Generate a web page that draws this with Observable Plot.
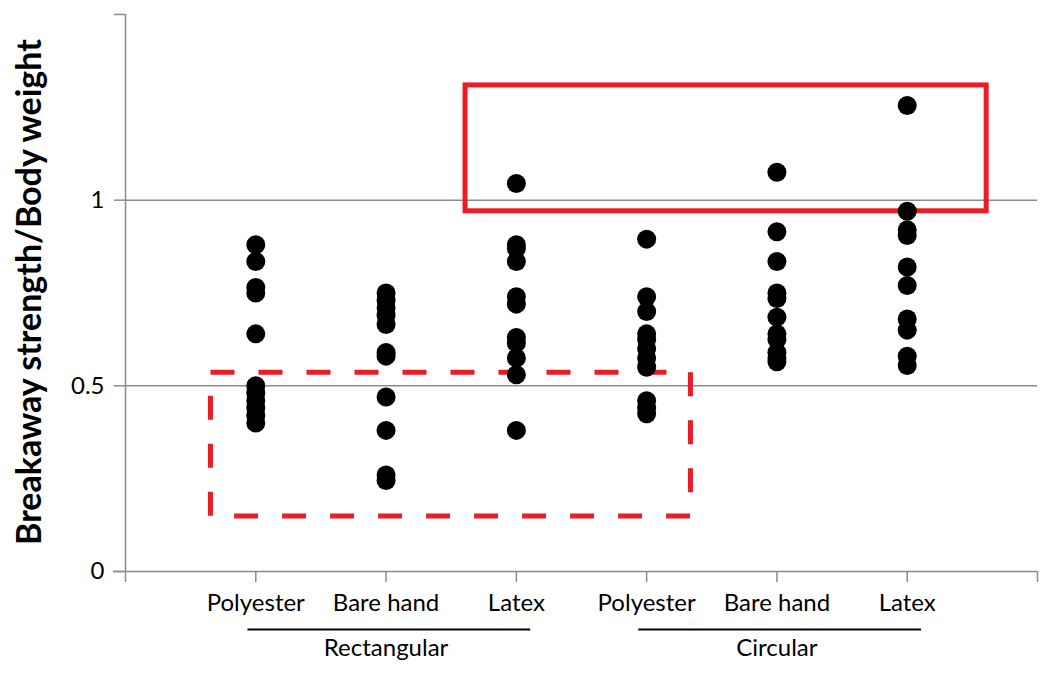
<!DOCTYPE html>
<html>
<head>
<meta charset="utf-8">
<script src="https://cdn.jsdelivr.net/npm/d3@7"></script>
<script src="https://cdn.jsdelivr.net/npm/@observablehq/plot@0.6"></script>
<style>
  body { margin: 0; background: #fff; }
  #chart svg { font-family: Lato, "Open Sans", sans-serif; }
</style>
</head>
<body>
<div id="chart"></div>
<script>
// Category labels (positions 1..6 on the x axis)
const categories = ["Polyester", "Bare hand", "Latex", "Polyester", "Bare hand", "Latex"];
const groups = ["Rectangular", "Circular"];
const groupCenter = [2, 5];
const groupStart = [0.94, 3.94];
const groupEnd = [3.11, 6.11];

// Breakaway strength / body weight per condition
const rectPolyester = [0.88, 0.835, 0.765, 0.75, 0.64, 0.50, 0.48, 0.46, 0.44, 0.42, 0.40];
const rectBareHand  = [0.75, 0.73, 0.71, 0.69, 0.665, 0.59, 0.58, 0.47, 0.38, 0.26, 0.245];
const rectLatex     = [1.045, 0.88, 0.87, 0.835, 0.74, 0.72, 0.63, 0.615, 0.575, 0.53, 0.38];
const circPolyester = [0.895, 0.74, 0.70, 0.64, 0.625, 0.60, 0.575, 0.55, 0.46, 0.44, 0.425];
const circBareHand  = [1.075, 0.915, 0.835, 0.75, 0.735, 0.685, 0.64, 0.625, 0.59, 0.575, 0.565];
const circLatex     = [1.255, 0.97, 0.92, 0.905, 0.82, 0.77, 0.68, 0.65, 0.58, 0.555];

const yTicks = [0, 0.5, 1, 1.5];
const xTicks = [0, 1, 2, 3, 4, 5, 6, 7];

// Highlight boxes (data units): solid = high values, dashed = low values
const solidBox = [{x1: 2.61, x2: 6.61, y1: 0.97, y2: 1.309}];
const dashedBox = [{x1: 0.656, x2: 4.34, y1: 0.148, y2: 0.535}];

const series = [rectPolyester, rectBareHand, rectLatex, circPolyester, circBareHand, circLatex];
const points = series.flatMap((vals, i) => vals.map(v => ({x: i + 1, y: v})));

const gray = "#8c8c8c";
const red = "#ec1c24";

const chart = Plot.plot({
  width: 1050,
  height: 674,
  marginLeft: 125,
  marginRight: 13,
  marginTop: 14,
  marginBottom: 103,
  x: {domain: [0, 7]},
  y: {domain: [0, 1.5]},
  marks: [
    Plot.ruleY([0.5, 1], {stroke: gray, strokeWidth: 1.5}),
    Plot.ruleX([0], {stroke: gray, strokeWidth: 1.5}),
    Plot.ruleY([0], {stroke: gray, strokeWidth: 1.5, insetLeft: -12}),
    Plot.axisY({
      ticks: yTicks, tickSize: 11, tickPadding: 10, stroke: gray, strokeWidth: 1.5,
      fill: "#000", fontSize: 24, label: null,
      tickFormat: d => d === 1.5 ? "" : String(d)
    }),
    Plot.axisX({
      ticks: xTicks, tickSize: 11, tickPadding: 11, stroke: gray, strokeWidth: 1.5,
      fill: "#000", fontSize: 24, label: null,
      tickFormat: d => categories[d - 1] ?? ""
    }),
    Plot.rect(solidBox, {x1: "x1", x2: "x2", y1: "y1", y2: "y2", fill: "none", stroke: red, strokeWidth: 5}),
    Plot.rect(dashedBox, {x1: "x1", x2: "x2", y1: "y1", y2: "y2", fill: "none", stroke: red, strokeWidth: 5, strokeDasharray: "24,24"}),
    Plot.dot(points, {x: "x", y: "y", r: 9.5, fill: "#000", stroke: "none"}),
    Plot.ruleY(groups.map((g, i) => ({g, x1: groupStart[i], x2: groupEnd[i]})), {
      y: () => 0, x1: "x1", x2: "x2", dy: 58, stroke: "#000", strokeWidth: 2
    }),
    Plot.text(groups, {x: (d, i) => groupCenter[i], y: () => 0, dy: 77, text: d => d, fontSize: 24, fill: "#000"}),
    Plot.text(["Breakaway strength/Body weight"], {
      frameAnchor: "left", textAnchor: "middle", rotate: -90, dx: -95, dy: -1,
      fontSize: 34, fontWeight: "bold", fill: "#000"
    })
  ]
});
document.getElementById("chart").append(chart);
</script>
</body>
</html>
